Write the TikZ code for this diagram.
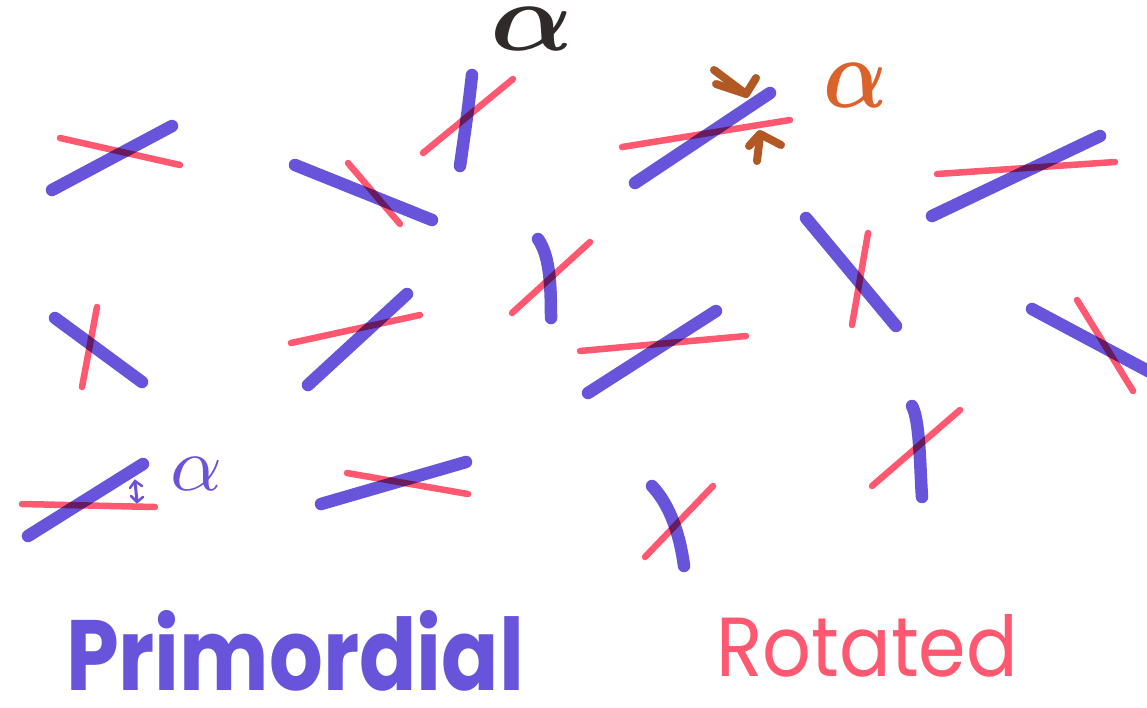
\documentclass[tikz,border=0pt]{standalone}
\usepackage{fontspec}
\newfontfamily\handfont{Poppins}
\definecolor{inkblue}{RGB}{104,84,218}
\definecolor{inkred}{RGB}{255,88,112}
\definecolor{inkblack}{RGB}{48,42,42}
\definecolor{inkbrown}{RGB}{178,88,36}
\definecolor{inkorange}{RGB}{220,98,44}
\tikzset{
  chromblue/.style={draw=inkblue, line width=12.5pt, line cap=round, line join=round},
  chromred/.style={draw=inkred, line width=6.5pt, line cap=round, line join=round},
  brownmark/.style={draw=inkbrown, line width=8pt, line cap=round, line join=round},
  label/.style={inner sep=0pt, outer sep=0pt}
}
\begin{document}
\begin{tikzpicture}[x=1pt,y=-1pt]
\useasboundingbox (0,0) rectangle (1147,707);
\fill[white] (0,0) rectangle (1147,707);
% blue (primordial) chromosomes
\draw[chromblue] (52,190) -- (172,126);
\draw[chromblue] (295,165) -- (432,220);
\draw[chromblue] (472,75) .. controls (468,110) .. (460,166);
\draw[chromblue] (635,183) -- (770,93);
\draw[chromblue] (932,216) -- (1100,136);
\draw[chromblue] (55,318) -- (142,382);
\draw[chromblue] (308,385) -- (407,294);
\draw[chromblue] (538,239) .. controls (549,255) and (551,280) .. (551,318);
\draw[chromblue] (588,393) -- (716,311);
\draw[chromblue] (806,218) -- (896,326);
\draw[chromblue] (1032,309) -- (1150,372);
\draw[chromblue] (28,536) -- (143,464);
\draw[chromblue] (321,504) -- (466,462);
\draw[chromblue] (652,486) .. controls (670,505) and (680,535) .. (684,566);
\draw[chromblue] (912,406) .. controls (920,420) and (920,470) .. (922,497);
% red (rotated) chromosomes
\begin{scope}[blend mode=multiply]
\draw[chromred] (60,138) -- (180,165);
\draw[chromred] (348,163) -- (400,224);
\draw[chromred] (423,153) -- (513,79);
\draw[chromred] (622,147) -- (790,120);
\draw[chromred] (937,174) -- (1115,162);
\draw[chromred] (97,307) -- (82,387);
\draw[chromred] (291,343) -- (420,315);
\draw[chromred] (512,313) -- (590,242);
\draw[chromred] (580,351) -- (746,336);
\draw[chromred] (868,233) -- (852,325);
\draw[chromred] (1077,300) -- (1133,391);
\draw[chromred] (22,504) -- (155,507);
\draw[chromred] (347,473) -- (468,494);
\draw[chromred] (645,557) -- (713,486);
\draw[chromred] (872,486) -- (960,410);
\end{scope}
% brown angle arrows
\draw[brownmark] (714,70) -- (746,94);
\draw[brownmark] (716,84) -- (746,94) -- (756,78);
\draw[brownmark] (757,161) -- (760,136);
\draw[brownmark] (749,146) -- (760,134) -- (781,145);
% small purple double arrow
\draw[draw=inkblue, line width=3pt, line cap=round] (135,482) -- (137,501);
\draw[draw=inkblue, line width=2.5pt, line cap=round] (130,488) -- (135,481) -- (142,486);
\draw[draw=inkblue, line width=2.5pt, line cap=round] (131,496) -- (137,502) -- (143,497);
% alpha labels
\node[label, anchor=south west, text=inkblack] (alphatop) at (490,50) {\resizebox{83pt}{43pt}{\boldmath$\alpha$}};
\node[label, anchor=south west, text=inkorange] (alphabrown) at (823,107) {\resizebox{64pt}{44pt}{\boldmath$\alpha$}};
\node[label, anchor=south west, text=inkblue] (alphablue) at (170,490) {\resizebox{52pt}{33pt}{$\alpha$}};
% captions
\node[label, anchor=base west, text=inkblue] (prim) at (66,690) {\resizebox{458pt}{80pt}{\handfont\bfseries Primordial}};
\node[label, anchor=base west, text=inkred] (rot) at (716,676) {\resizebox{302pt}{62pt}{\handfont Rotated}};
\end{tikzpicture}
\end{document}
